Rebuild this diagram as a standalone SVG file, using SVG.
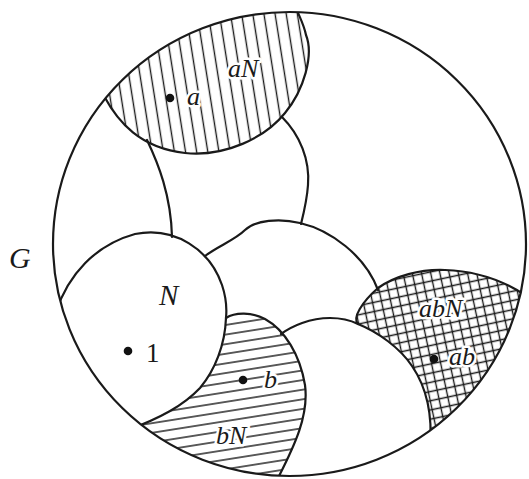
<svg xmlns="http://www.w3.org/2000/svg" width="529" height="479" viewBox="0 0 529 479">
<style>
.b{fill:none;stroke:#1a1a1a;stroke-width:2.2;stroke-linejoin:round;stroke-linecap:round}
.h{stroke:#1a1a1a;stroke-width:1.4;fill:none}
.t{font-family:"Liberation Serif","DejaVu Serif",serif;font-style:italic;font-size:26px;fill:#1a1a1a;stroke:#fff;stroke-width:5;paint-order:stroke;stroke-linejoin:round}
.u{font-style:normal}
.dot{fill:#111}
</style>
<defs>
<clipPath id="c"><ellipse cx="289.5" cy="244" rx="236.5" ry="232"/></clipPath>
<pattern id="pv" width="11" height="11" patternUnits="userSpaceOnUse" patternTransform="rotate(-9)"><line x1="5.5" y1="0" x2="5.5" y2="11" class="h"/></pattern>
<pattern id="ph" width="9.5" height="9.5" patternUnits="userSpaceOnUse" patternTransform="rotate(-9)"><line x1="0" y1="4.75" x2="9.5" y2="4.75" class="h"/></pattern>
<pattern id="px" width="9" height="9" patternUnits="userSpaceOnUse" patternTransform="rotate(-12)"><path d="M4.5,0V9M0,4.5H9" class="h"/></pattern>
</defs>
<rect width="529" height="479" fill="#fff"/>
<g clip-path="url(#c)">
  <g id="aN">
    <path d="M104,96 C118,122 140,148 185,153 C225,157 265,138 285,113 C304,90 314,55 306,35 C304,25 300,18 296,10 L296,-5 L60,-5 L60,96 Z" fill="url(#pv)"/>
    <path class="b" d="M104,96 C118,122 140,148 185,153 C225,157 265,138 285,113 C304,90 314,55 306,35 C304,25 300,18 296,8"/>
  </g>
  <g id="bN">
    <path d="M226,318 C235,312 252,312 265,319 C285,330 300,355 305,385 C309,415 295,445 277,478 L277,495 L110,495 L110,435 L130,428 C160,418 183,406 200,388 C215,370 225,345 226,318 Z" fill="url(#ph)"/>
    <path class="b" d="M226,318 C235,312 252,312 265,319 C285,330 300,355 305,385 C309,415 295,445 277,480"/>
  </g>
  <g id="abN">
    <path d="M378,288 C395,276 420,269 445,270 C475,271 505,280 530,298 L560,298 L560,470 L430,470 L430,445 C433,412 425,385 412,366 C400,348 378,332 358,324 C352,318 362,302 378,288 Z" fill="url(#px)"/>
    <path class="b" d="M378,288 C395,276 420,269 445,270 C475,271 505,280 532,300"/>
    <path class="b" d="M378,288 C362,302 352,318 358,324 C378,332 400,348 412,366 C425,385 433,412 430,448"/>
  </g>
  <g id="N">
    <path class="b" d="M56,312 C68,275 95,245 135,234 C175,226 210,250 222,285 C225,294 227,308 226,318 C225,345 215,370 200,388 C183,406 160,418 128,430"/>
  </g>
  <g id="cosets">
    <path class="b" d="M147,140 C158,163 171,195 172,237"/>
    <path class="b" d="M282,117 C300,135 310,160 308,185 C307,200 304,212 301,224"/>
    <path class="b" d="M205,256 C218,246 235,240 245,230 C255,220 280,218 300,223 C330,230 365,255 378,290"/>
    <path class="b" d="M281,334 C292,326 310,318 330,318 C342,318 350,320 358,324"/>
  </g>
</g>
<g id="G">
  <ellipse class="b" cx="289.5" cy="244" rx="236.5" ry="232"/>
</g>
<g id="points">
  <circle class="dot" cx="170" cy="98" r="4.3"/>
  <circle class="dot" cx="128" cy="351" r="4.3"/>
  <circle class="dot" cx="243" cy="380" r="4.3"/>
  <circle class="dot" cx="434" cy="359" r="4.3"/>
</g>
<g id="labels">
  <text class="t" x="228" y="77">aN</text>
  <text class="t" x="187" y="105">a</text>
  <text class="t" x="9" y="268" style="font-size:30px">G</text>
  <text class="t" x="159" y="305" style="font-size:29px">N</text>
  <text class="t u" x="146" y="362" style="font-size:27px">1</text>
  <text class="t" x="264" y="388">b</text>
  <text class="t" x="216" y="444">bN</text>
  <text class="t" x="419" y="317">abN</text>
  <text class="t" x="449" y="365">ab</text>
</g>
</svg>
